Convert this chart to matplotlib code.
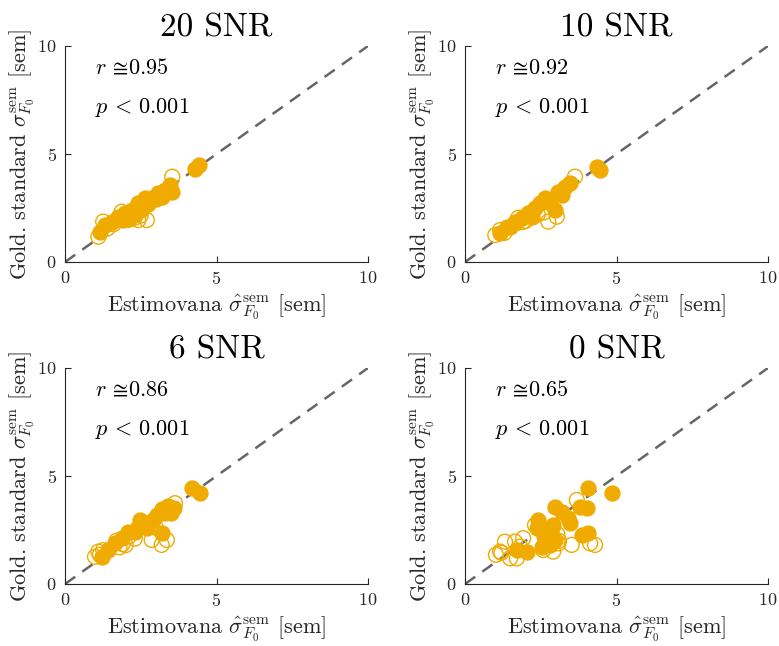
import matplotlib
matplotlib.use("Agg")
import matplotlib.pyplot as plt
import numpy as np

plt.rcParams['font.family'] = ['cmr10', 'DejaVu Serif']
plt.rcParams['mathtext.fontset'] = 'cm'
plt.rcParams['axes.formatter.use_mathtext'] = True

titles = ["20 SNR", "10 SNR", "6 SNR", "0 SNR"]
r_values = ["0.95", "0.92", "0.86", "0.65"]

# Panel 1: 20 SNR
p1_fill_x = [4.3, 4.42, 3.47, 3.3, 3.08, 2.86, 2.64, 3.52, 2.42, 2.2, 1.98, 1.76, 1.54, 1.32, 1.16, 2.3, 2.1, 1.9, 2.75, 3.2, 3.0, 2.5]
p1_fill_y = [4.3, 4.5, 3.56, 3.33, 3.18, 2.95, 2.95, 3.26, 2.72, 2.41, 2.25, 2.1, 1.87, 1.71, 1.4, 2.2, 2.0, 1.95, 2.7, 3.0, 2.9, 2.4]
p1_hol_x = [3.54, 2.7, 1.87, 1.26, 1.1, 2.42, 2.2, 2.05, 2.5, 1.6, 1.4, 2.3]
p1_hol_y = [3.95, 1.94, 2.33, 1.87, 1.17, 1.94, 2.1, 1.95, 2.15, 1.75, 1.55, 2.05]

# Panel 2: 10 SNR
p2_fill_x = [4.35, 4.46, 3.47, 3.3, 3.08, 2.64, 2.48, 2.31, 2.09, 1.87, 1.65, 1.38, 1.16, 2.97, 3.2, 2.8, 2.2, 1.5]
p2_fill_y = [4.41, 4.27, 3.64, 3.49, 3.26, 2.95, 2.72, 2.49, 2.25, 2.02, 1.87, 1.63, 1.33, 2.41, 3.1, 2.75, 2.1, 1.6]
p2_hol_x = [3.63, 2.75, 3.03, 1.76, 1.7, 1.9, 1.16, 1.0, 2.4, 2.0, 1.3, 2.6]
p2_hol_y = [3.95, 1.87, 2.1, 2.05, 1.8, 1.85, 1.48, 1.25, 2.2, 1.9, 1.35, 2.3]

# Panel 3: 6 SNR
p3_fill_x = [4.18, 4.46, 3.3, 3.4, 3.6, 3.5, 3.03, 2.92, 2.48, 2.42, 2.31, 3.19, 2.09, 1.87, 1.65, 1.43, 1.21, 3.2, 2.7]
p3_fill_y = [4.43, 4.2, 3.3, 3.6, 3.5, 3.3, 3.19, 2.96, 2.96, 2.65, 2.42, 2.35, 2.42, 2.12, 1.88, 1.57, 1.26, 3.45, 2.6]
p3_hol_x = [3.63, 3.36, 3.19, 2.86, 1.7, 1.9, 1.8, 2.1, 1.1, 0.99, 1.26, 1.15, 2.3, 2.0, 3.0]
p3_hol_y = [3.74, 2.04, 1.81, 2.04, 2.0, 1.85, 1.7, 2.2, 1.5, 1.26, 1.57, 1.35, 2.1, 1.8, 2.6]

# Panel 4: 0 SNR
p4_fill_x = [4.07, 4.84, 2.97, 3.8, 4.02, 3.19, 3.41, 3.47, 2.42, 2.37, 2.86, 2.75, 2.92, 3.85, 4.07, 2.64, 2.81, 2.53, 2.04, 1.71, 2.97, 2.6]
p4_fill_y = [4.43, 4.2, 3.58, 3.58, 3.5, 3.35, 3.04, 2.81, 2.96, 2.58, 2.58, 2.27, 2.73, 2.27, 2.35, 2.04, 1.81, 1.73, 1.5, 1.57, 2.04, 2.2]
p4_hol_x = [3.69, 4.13, 4.29, 2.31, 3.05, 3.1, 1.16, 1.32, 1.65, 1.82, 1.71, 1.49, 1.92, 2.58, 2.91, 3.08, 3.52, 1.02, 1.2]
p4_hol_y = [3.89, 1.88, 1.81, 2.73, 2.3, 2.0, 1.5, 1.96, 1.96, 1.73, 1.19, 1.19, 2.12, 1.57, 1.5, 1.88, 1.81, 1.35, 1.45]

fill_x = [p1_fill_x, p2_fill_x, p3_fill_x, p4_fill_x]
fill_y = [p1_fill_y, p2_fill_y, p3_fill_y, p4_fill_y]
hol_x = [p1_hol_x, p2_hol_x, p3_hol_x, p4_hol_x]
hol_y = [p1_hol_y, p2_hol_y, p3_hol_y, p4_hol_y]

col = '#EFAB00'
fig = plt.figure(figsize=(7.79, 6.46), dpi=100)
positions = [
    [65/779, 1-262/646, 303/779, 216/646],
    [465/779, 1-262/646, 303/779, 216/646],
    [65/779, 1-584/646, 303/779, 216/646],
    [465/779, 1-584/646, 303/779, 216/646],
]
for i in range(4):
    ax = fig.add_axes(positions[i])
    ax.plot([0, 10], [0, 10], ls=(0, (5, 3.5)), color='#666666', lw=1.8, zorder=1)
    ax.scatter(hol_x[i], hol_y[i], s=115, facecolors='none', edgecolors=col, linewidths=1.0, zorder=2)
    ax.scatter(fill_x[i], fill_y[i], s=115, facecolors=col, edgecolors=col, linewidths=1.0, zorder=3)
    ax.set_xlim(0, 10)
    ax.set_ylim(0, 10)
    ax.set_xticks([0, 5, 10])
    ax.set_yticks([0, 5, 10])
    for s in ['top', 'right']:
        ax.spines[s].set_visible(False)
    for s in ['left', 'bottom']:
        ax.spines[s].set_color('#262626')
        ax.spines[s].set_linewidth(0.8)
    ax.tick_params(direction='in', length=4, labelsize=13, colors='#262626', pad=6)
    ax.set_title(titles[i], fontsize=24, pad=7)
    ax.set_xlabel(r'Estimovana $\hat{\sigma}^{\mathrm{sem}}_{F_0}$ [sem]', fontsize=16, labelpad=4, color='#262626')
    ax.set_ylabel(r'Gold. standard $\sigma^{\mathrm{sem}}_{F_0}$ [sem]', fontsize=16, labelpad=0, color='#262626')
    ax.text(1.0, 8.98, r'$r\,\cong\!%s$' % r_values[i], fontsize=16, va='center')
    ax.text(1.0, 7.13, r'$p\,<\,0.001$', fontsize=16, va='center')

fig.savefig('out.png', dpi=100)
